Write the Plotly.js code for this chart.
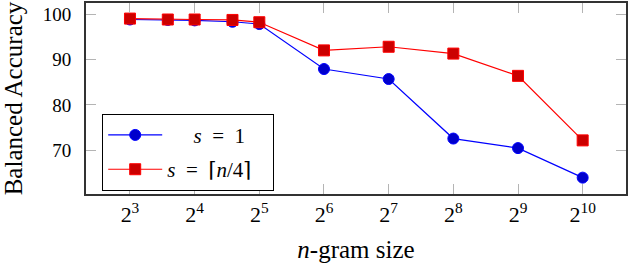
<!DOCTYPE html>
<html>
<head>
<meta charset="utf-8">
<script src="https://cdn.plot.ly/plotly-3.0.1.min.js"></script>
<style>
html, body { margin: 0; padding: 0; background: #fff; }
#chart { width: 630px; height: 264px; }
</style>
</head>
<body>
<div id="chart"></div>
<script>
// n-gram sizes
const nValues = [8, 12, 16, 24, 32, 64, 128, 256, 512, 1024];
// Balanced accuracy, s = 1
const accS1 = [98.8, 98.7, 98.6, 98.3, 97.8, 87.9, 85.7, 72.6, 70.5, 64.0];
// Balanced accuracy, s = ceil(n/4)
const accSQuarter = [99.0, 98.8, 98.8, 98.7, 98.2, 92.0, 92.8, 91.3, 86.4, 72.2];
// tick labels
const xTickVals = [8, 16, 32, 64, 128, 256, 512, 1024];
const xTickText = ['2<sup>3</sup>', '2<sup>4</sup>', '2<sup>5</sup>', '2<sup>6</sup>', '2<sup>7</sup>', '2<sup>8</sup>', '2<sup>9</sup>', '2<sup>10</sup>'];
const yTickVals = [70, 80, 90, 100];
const seriesNames = ['\u00a0\u00a0\u00a0\u00a0\u00a0<i>s</i>\u00a0\u00a0=\u00a0\u00a01', '<i>s</i>\u00a0\u00a0=\u00a0\u00a0\u2308<i>n</i>/4\u2309\u00a0\u00a0\u00a0'];

const serif = '"Liberation Serif", "DejaVu Serif", serif';

const traces = [
  {
    x: nValues, y: accS1, name: seriesNames[0], legendgroup: 'a',
    type: 'scatter', mode: 'lines+markers',
    line: {color: '#0000ff', width: 1.2},
    marker: {symbol: 'circle', size: 11, color: '#0000cc', line: {color: '#0000ff', width: 1}}
  },
  {
    x: nValues, y: accSQuarter, name: seriesNames[1], legendgroup: 'b',
    type: 'scatter', mode: 'lines+markers',
    line: {color: '#ff0000', width: 1.2},
    marker: {symbol: 'square', size: 11, color: '#cc0000', line: {color: '#ff0000', width: 1}}
  }
];

const layout = {
  width: 630, height: 264,
  margin: {l: 86, r: 4, t: 3, b: 70},
  paper_bgcolor: '#fff', plot_bgcolor: '#fff',
  font: {family: serif, color: '#000', size: 18},
  showlegend: true,
  legend: {
    x: 0.03, y: 0.42, xanchor: 'left', yanchor: 'top',
    bgcolor: '#fff', bordercolor: '#000', borderwidth: 1,
    font: {family: serif, size: 21, color: '#000'},
    traceorder: 'grouped', tracegroupgap: 4, itemwidth: 54
  },
  xaxis: {
    type: 'log',
    range: [Math.log10(Math.pow(2, 2.32)), Math.log10(Math.pow(2, 10.67))],
    tickvals: xTickVals, ticktext: xTickText,
    tickfont: {size: 22, family: serif},
    ticks: 'inside', ticklen: 10, tickcolor: '#b4b4b4', tickwidth: 1,
    showline: true, linecolor: '#333', linewidth: 2, mirror: 'allticks',
    showgrid: false, zeroline: false,
    title: {text: '<i>n</i>-gram size', font: {size: 25, family: serif}, standoff: 14}
  },
  yaxis: {
    range: [60.4, 102.43],
    tickvals: yTickVals,
    tickfont: {size: 19, family: serif},
    ticks: 'inside', ticklen: 10, tickcolor: '#b4b4b4', tickwidth: 1,
    ticklabelstandoff: 9,
    showline: true, linecolor: '#333', linewidth: 2, mirror: 'allticks',
    showgrid: false, zeroline: false,
    title: {text: 'Balanced Accuracy', font: {size: 25, family: serif}, standoff: 19}
  }
};

Plotly.newPlot('chart', traces, layout, {staticPlot: true, displayModeBar: false});
</script>
</body>
</html>
